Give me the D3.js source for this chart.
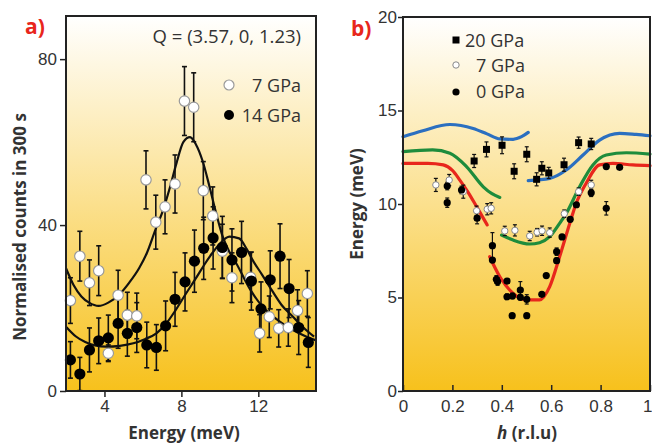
<!DOCTYPE html>
<html>
<head>
<meta charset="utf-8">
<script src="https://cdn.jsdelivr.net/npm/d3@7"></script>
<style>
  body { margin: 0; background: #fff; }
  svg { display: block; font-family: "Open Sans", sans-serif; }
  .tick text { fill: #333; font-size: 17px; }
  .tick line { stroke: #222; stroke-width: 1.5; }
</style>
</head>
<body>
<script>
// ---- panel a: energy scans at Q = (3.57, 0, 1.23) ----
var energy14 = [2.23, 2.72, 3.22, 3.7, 4.2, 4.71, 5.19, 5.68, 6.2, 6.7, 7.18, 7.67, 8.19, 8.68, 9.16, 9.65, 10.13, 10.63, 11.13, 11.64, 12.14, 12.62, 13.13, 13.6, 14.1, 14.6];
var counts14 = [7.5, 4.1, 9.9, 12.1, 12.8, 16.3, 13.9, 15.3, 11.1, 10.5, 15.7, 22.1, 26.3, 31.3, 34.4, 36.9, 34.6, 31.6, 33.4, 26.5, 19.8, 26.8, 32.5, 24.7, 15.3, 11.7];
var err14    = [4.4, 4, 5.3, 5.5, 5.5, 6, 5.5, 6, 5.5, 5.5, 6, 6.5, 7, 7.5, 7.5, 7.5, 7.5, 7.5, 7.5, 7, 6.5, 7, 7.8, 7, 6.5, 6];

var energy7 = [2.23, 2.72, 3.22, 3.7, 4.2, 4.71, 5.19, 5.68, 6.16, 6.67, 7.15, 7.67, 8.16, 8.64, 9.14, 9.63, 10.13, 10.63, 11.6, 12.07, 12.57, 13.06, 13.56, 14.04, 14.55];
var counts7 = [21.8, 32.5, 26.1, 29.0, 9.1, 23.1, 18.3, 18.1, 50.9, 40.7, 44.4, 49.9, 69.9, 68.4, 48.3, 42.2, 33.7, 27.3, 27.4, 13.9, 17.9, 15.1, 15.3, 19.4, 23.5];
var err7    = [5.5, 6, 5.5, 6, 2, 6, 5.5, 5.5, 7, 6.5, 6.5, 7, 8.3, 8.3, 7, 7, 6.5, 6, 6, 4.5, 5, 4.5, 4.5, 5, 5.5];

var fit7E = [2.0, 2.4, 2.8, 3.2, 3.7, 4.2, 4.8, 5.3, 5.8, 6.2, 6.7, 7.05, 7.4, 7.75, 8.1, 8.45, 8.75, 9.1, 9.45, 9.8, 10.15, 10.5, 10.85, 11.6, 12.1, 12.6, 13.1, 13.8, 14.4, 15.0];
var fit7C = [29.6, 25.5, 22.8, 21.3, 20.5, 21.3, 23.4, 26.2, 29.6, 33.2, 39.5, 43.6, 49, 55, 60, 61.2, 59.5, 55.5, 49.5, 43, 37.2, 33.5, 30.8, 24.3, 21, 18.6, 16.8, 14.7, 13.3, 12.2];
var fit14E = [2.0, 2.5, 3.0, 3.5, 4.1, 4.8, 5.5, 6.1, 6.7, 7.2, 7.7, 8.2, 8.8, 9.2, 9.6, 10.0, 10.5, 11.0, 11.4, 11.7, 12.2, 12.7, 13.2, 13.8, 14.3, 14.9];
var fit14C = [15.5, 13.2, 11.8, 11, 10.7, 10.9, 11.5, 12.5, 13.9, 16.2, 19.5, 23.2, 27.5, 30.5, 33.2, 35.5, 37.2, 36.8, 34.2, 31.6, 28, 24.3, 20.8, 17.9, 15.5, 13.1];

var ticksA_x = [4, 8, 12];
var ticksA_y = [0, 40, 80];

// ---- panel b: dispersion ----
var h20 = [0.288, 0.338, 0.401, 0.45, 0.501, 0.541, 0.562, 0.59, 0.652, 0.711, 0.762];
var e20 = [12.3, 12.92, 13.14, 11.75, 12.66, 11.32, 11.91, 11.66, 12.1, 13.28, 13.21];
var d20 = [0.35, 0.4, 0.45, 0.4, 0.4, 0.35, 0.35, 0.3, 0.35, 0.3, 0.3];

var h7 = [0.133, 0.187, 0.244, 0.298, 0.341, 0.357, 0.412, 0.453, 0.513, 0.543, 0.563, 0.594, 0.653, 0.711, 0.762];
var e7 = [11.02, 11.28, 10.66, 9.64, 9.72, 9.77, 8.56, 8.59, 8.29, 8.49, 8.57, 8.47, 9.48, 10.66, 11.02];
var d7 = [0.35, 0.3, 0.35, 0.25, 0.3, 0.3, 0.25, 0.3, 0.25, 0.2, 0.25, 0.25, 0.2, 0.2, 0.25];

var h0 = [0.179, 0.179, 0.237, 0.3, 0.362, 0.362, 0.378, 0.383, 0.421, 0.421, 0.443, 0.442, 0.475, 0.475, 0.501, 0.501, 0.562, 0.58, 0.622, 0.622, 0.644, 0.677, 0.702, 0.762, 0.823, 0.877, 0.823];
var e0 = [10.96, 10.07, 10.75, 9.24, 7.77, 7.0, 5.97, 5.85, 5.88, 5.04, 5.08, 4.03, 5.4, 5.01, 4.9, 4.03, 5.17, 6.17, 7.45, 6.97, 8.24, 9.18, 9.96, 10.6, 12.0, 11.96, 9.77];
var d0 = [0.2, 0.25, 0.2, 0.3, 0.7, 0, 0.2, 0.2, 0, 0.15, 0.15, 0, 0.45, 0.15, 0.25, 0, 0.1, 0.1, 0.2, 0.15, 0.1, 0.1, 0.1, 0.2, 0.1, 0.1, 0.36];

var blueLh = [0, 0.08, 0.19, 0.284, 0.34, 0.392, 0.446, 0.48, 0.507];
var blueLe = [13.6, 13.92, 14.25, 14.04, 13.75, 13.48, 13.46, 13.6, 13.83];
var blueRh = [0.507, 0.594, 0.661, 0.729, 0.796, 0.877, 0.944, 1.0];
var blueRe = [11.25, 11.37, 11.82, 12.62, 13.42, 13.78, 13.72, 13.65];
var greenLh = [0, 0.12, 0.19, 0.257, 0.325, 0.36, 0.392];
var greenLe = [12.8, 12.89, 12.71, 12.0, 10.92, 10.55, 10.35];
var greenRh = [0.399, 0.446, 0.513, 0.553, 0.594, 0.634, 0.661, 0.715, 0.769, 0.823, 0.904, 1.0];
var greenRe = [8.34, 8.07, 7.86, 7.93, 8.25, 8.96, 9.5, 10.92, 12.09, 12.62, 12.74, 12.67];
var redLh = [0, 0.1, 0.163, 0.2, 0.23, 0.265, 0.298, 0.341];
var redLe = [12.17, 12.17, 12.09, 11.8, 11.28, 10.6, 9.86, 8.88];
var redRh = [0.351, 0.392, 0.446, 0.5, 0.553, 0.594, 0.634, 0.675, 0.701, 0.741, 0.796, 0.85, 0.93, 1.0];
var redRe = [7.18, 6.11, 5.22, 4.87, 4.87, 5.58, 7.18, 8.96, 10.03, 11.1, 12.09, 12.17, 12.09, 12.05];

var ticksB_x = [0, 0.2, 0.4, 0.6, 0.8, 1];
var ticksB_y = [0, 5, 10, 15, 20];

function zip(xs, ys, es) {
  return xs.map(function(x, i) { return {x: x, y: ys[i], e: es ? es[i] : 0}; });
}

var svg = d3.select("body").append("svg")
    .attr("width", 652)
    .attr("height", 444);

var grad = svg.append("defs").append("linearGradient")
    .attr("id", "bg").attr("x1", 0).attr("y1", 0).attr("x2", 0).attr("y2", 1);
grad.append("stop").attr("offset", "0%").attr("stop-color", "#ffffff");
grad.append("stop").attr("offset", "100%").attr("stop-color", "#f7c11c");

// scales
var xA = d3.scaleLinear().domain([2, 15]).range([66, 316]);
var yA = d3.scaleLinear().domain([0, 90.4]).range([391, 16]);
var xB = d3.scaleLinear().domain([0, 1]).range([403, 650]);
var yB = d3.scaleLinear().domain([0, 20]).range([391, 17]);

// backgrounds
svg.append("rect").attr("x", 66).attr("y", 16).attr("width", 250).attr("height", 375).style("fill", "url(#bg)");
svg.append("rect").attr("x", 403).attr("y", 17).attr("width", 247).attr("height", 374).style("fill", "url(#bg)");

// ---------- panel a ----------
var gA = svg.append("g");

var lineA = d3.line()
    .x(function(d) { return xA(d.x); })
    .y(function(d) { return yA(d.y); })
    .curve(d3.curveMonotoneX);

gA.append("path").datum(zip(fit7E, fit7C)).attr("d", lineA)
    .style("fill", "none").style("stroke", "#111").style("stroke-width", 2.2);
gA.append("path").datum(zip(fit14E, fit14C)).attr("d", lineA)
    .style("fill", "none").style("stroke", "#111").style("stroke-width", 2.2);

function errorBars(g, data, xs, ys, cap, w) {
  var eb = g.append("g");
  data.forEach(function(d) {
    if (!d.e) return;
    var x = xs(d.x), y0 = ys(d.y - d.e), y1 = ys(d.y + d.e);
    eb.append("line").attr("x1", x).attr("x2", x).attr("y1", y0).attr("y2", y1)
      .style("stroke", "#111").style("stroke-width", w);
    eb.append("line").attr("x1", x - cap).attr("x2", x + cap).attr("y1", y0).attr("y2", y0)
      .style("stroke", "#111").style("stroke-width", w);
    eb.append("line").attr("x1", x - cap).attr("x2", x + cap).attr("y1", y1).attr("y2", y1)
      .style("stroke", "#111").style("stroke-width", w);
  });
}

var pts7 = zip(energy7, counts7, err7);
var pts14 = zip(energy14, counts14, err14);

errorBars(gA, pts7, xA, yA, 2.5, 1.6);
errorBars(gA, pts14, xA, yA, 2.5, 1.6);

gA.selectAll(".p7").data(pts7).enter().append("circle")
    .attr("cx", function(d) { return xA(d.x); })
    .attr("cy", function(d) { return yA(d.y); })
    .attr("r", 5.2)
    .style("fill", "#fff").style("stroke", "#9a9a9a").style("stroke-width", 1.2);

gA.selectAll(".p14").data(pts14).enter().append("circle")
    .attr("cx", function(d) { return xA(d.x); })
    .attr("cy", function(d) { return yA(d.y); })
    .attr("r", 5.6)
    .style("fill", "#000");

gA.append("rect").attr("x", 66).attr("y", 16).attr("width", 250).attr("height", 375)
    .style("fill", "none").style("stroke", "#222").style("stroke-width", 2);

gA.append("g").attr("transform", "translate(66,0)")
    .call(d3.axisLeft(yA).tickValues(ticksA_y).tickSize(6).tickPadding(3))
    .call(function(g) { g.select(".domain").remove(); });

gA.append("g").attr("transform", "translate(0,391)")
    .call(d3.axisBottom(xA).tickValues(ticksA_x).tickSize(6).tickPadding(3))
    .call(function(g) { g.select(".domain").remove(); });

gA.append("text").attr("x", 301).attr("y", 43).attr("text-anchor", "end")
    .style("font-size", "18.5px").style("fill", "#333")
    .text("Q = (3.57, 0, 1.23)");

gA.append("circle").attr("cx", 229).attr("cy", 85).attr("r", 5).style("fill", "#fff").style("stroke", "#9a9a9a").style("stroke-width", 1.2);
gA.append("text").attr("x", 301).attr("y", 92).attr("text-anchor", "end").style("font-size", "18px").style("fill", "#333").text("7 GPa");
gA.append("circle").attr("cx", 229).attr("cy", 115).attr("r", 5).style("fill", "#000");
gA.append("text").attr("x", 301).attr("y", 122).attr("text-anchor", "end").style("font-size", "18px").style("fill", "#333").text("14 GPa");

gA.append("text").attr("x", 25).attr("y", 34)
    .style("font-size", "21px").style("font-weight", "bold").style("fill", "#e8261c")
    .text("a)");

gA.append("text").attr("transform", "translate(26,227) rotate(-90)")
    .attr("text-anchor", "middle")
    .style("font-size", "17px").style("font-weight", "bold").style("fill", "#333")
    .text("Normalised counts in 300 s");

gA.append("text").attr("x", 184).attr("y", 439).attr("text-anchor", "middle")
    .style("font-size", "17px").style("font-weight", "bold").style("fill", "#333")
    .text("Energy (meV)");

// ---------- panel b ----------
var gB = svg.append("g");

var lineB = d3.line()
    .x(function(d) { return xB(d.x); })
    .y(function(d) { return yB(d.y); })
    .curve(d3.curveMonotoneX);

var curves = [
  [blueLh, blueLe, "#2b6fc0"], [blueRh, blueRe, "#2b6fc0"],
  [greenLh, greenLe, "#1e8c3c"], [greenRh, greenRe, "#1e8c3c"],
  [redLh, redLe, "#e8261c"], [redRh, redRe, "#e8261c"]
];
curves.forEach(function(c) {
  gB.append("path").datum(zip(c[0], c[1])).attr("d", lineB)
      .style("fill", "none").style("stroke", c[2]).style("stroke-width", 3.2)
      .style("stroke-linecap", "round");
});

var b20 = zip(h20, e20, d20), b7 = zip(h7, e7, d7), b0 = zip(h0, e0, d0);
errorBars(gB, b20, xB, yB, 2, 1.2);
errorBars(gB, b7, xB, yB, 2, 1.2);
errorBars(gB, b0, xB, yB, 2, 1.2);

gB.selectAll(".s20").data(b20).enter().append("rect")
    .attr("x", function(d) { return xB(d.x) - 3.5; })
    .attr("y", function(d) { return yB(d.y) - 3.5; })
    .attr("width", 7).attr("height", 7)
    .style("fill", "#000");

gB.selectAll(".c7").data(b7).enter().append("circle")
    .attr("cx", function(d) { return xB(d.x); })
    .attr("cy", function(d) { return yB(d.y); })
    .attr("r", 3.2)
    .style("fill", "#fff").style("stroke", "#888").style("stroke-width", 1);

gB.selectAll(".c0").data(b0).enter().append("circle")
    .attr("cx", function(d) { return xB(d.x); })
    .attr("cy", function(d) { return yB(d.y); })
    .attr("r", 3.6)
    .style("fill", "#000");

gB.append("rect").attr("x", 403).attr("y", 17).attr("width", 247).attr("height", 374)
    .style("fill", "none").style("stroke", "#222").style("stroke-width", 2);

gB.append("g").attr("transform", "translate(403,0)")
    .call(d3.axisLeft(yB).tickValues(ticksB_y).tickSize(5).tickPadding(1))
    .call(function(g) { g.select(".domain").remove(); });

gB.append("g").attr("transform", "translate(0,391)")
    .call(d3.axisBottom(xB).tickValues(ticksB_x).tickSize(-6).tickPadding(9).tickFormat(d3.format("~g")))
    .call(function(g) {
      g.select(".domain").remove();
      // last label sits at the page edge: keep it inside
      g.selectAll(".tick text").filter(function(d) { return d === 1; }).attr("text-anchor", "end").attr("dx", 2);
    });

gB.append("rect").attr("x", 452.5).attr("y", 36.5).attr("width", 7).attr("height", 7).style("fill", "#000");
gB.append("text").attr("x", 465).attr("y", 47).style("font-size", "18px").style("fill", "#333").text("20 GPa");
gB.append("circle").attr("cx", 456).attr("cy", 65).attr("r", 3.2).style("fill", "#fff").style("stroke", "#888");
gB.append("text").attr("x", 476).attr("y", 72).style("font-size", "18px").style("fill", "#333").text("7 GPa");
gB.append("circle").attr("cx", 456).attr("cy", 92).attr("r", 3.6).style("fill", "#000");
gB.append("text").attr("x", 476).attr("y", 98).style("font-size", "18px").style("fill", "#333").text("0 GPa");

gB.append("text").attr("x", 351).attr("y", 36)
    .style("font-size", "21px").style("font-weight", "bold").style("fill", "#e8261c")
    .text("b)");

gB.append("text").attr("transform", "translate(363,204) rotate(-90)")
    .attr("text-anchor", "middle")
    .style("font-size", "17px").style("font-weight", "bold").style("fill", "#333")
    .text("Energy (meV)");

var xt = gB.append("text").attr("x", 527).attr("y", 439).attr("text-anchor", "middle")
    .style("font-size", "17px").style("font-weight", "bold").style("fill", "#333");
xt.append("tspan").style("font-style", "italic").text("h");
xt.append("tspan").text(" (r.l.u)");
</script>
</body>
</html>
